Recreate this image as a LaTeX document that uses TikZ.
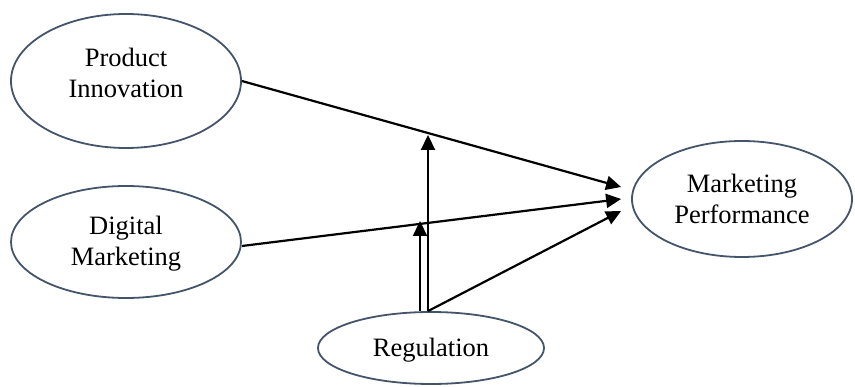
\documentclass[tikz,border=0pt]{standalone}
\usepackage{fontspec}
\setmainfont{Liberation Serif}
\usetikzlibrary{shapes.geometric,arrows.meta}
\definecolor{edgeblue}{HTML}{44546A}
\tikzset{
  oval/.style={ellipse, draw=edgeblue, line width=1.8pt, inner sep=0pt},
  txt/.style={align=center, font=\fontsize{26.5}{31}\selectfont, inner sep=0pt},
  arr/.style={line width=2.2pt, -{Triangle[length=15pt,width=14pt]}},
}
\begin{document}
\begin{tikzpicture}[x=1pt,y=-1pt]
\useasboundingbox (0,0) rectangle (855,387);
\node[oval, minimum width=230pt, minimum height=134pt] (pi) at (126,81) {};
\node[txt] (pit) at (126,73) {Product\\Innovation};
\node[oval, minimum width=230pt, minimum height=112pt] (dm) at (126,242) {};
\node[txt] (dmt) at (126,244) {Digital\\Marketing};
\node[oval, minimum width=220pt, minimum height=116pt] (mp) at (742,199) {};
\node[txt] (mpt) at (742,199) {Marketing\\Performance};
\node[oval, minimum width=226pt, minimum height=72pt] (reg) at (431,348) {};
\node[txt] (regt) at (431,350) {Regulation};
\coordinate (t1) at ([xshift=-10pt,yshift=12pt]mp.west);
\coordinate (t2) at ([xshift=-10pt]mp.west);
\coordinate (t3) at ([xshift=-10pt,yshift=-12pt]mp.west);
\coordinate (r1) at ([xshift=-3pt]reg.north);
\coordinate (r2) at ([xshift=-11pt]reg.north);
\coordinate (m1) at (428,135);
\coordinate (m2) at (420,221);
\draw[arr] (pi.east) -- (t1);
\draw[arr] ([yshift=-4pt]dm.east) -- (t2);
\draw[arr] (r1) -- (t3);
\draw[arr] (r1) -- (m1);
\draw[arr] (r2) -- (m2);
\end{tikzpicture}
\end{document}
